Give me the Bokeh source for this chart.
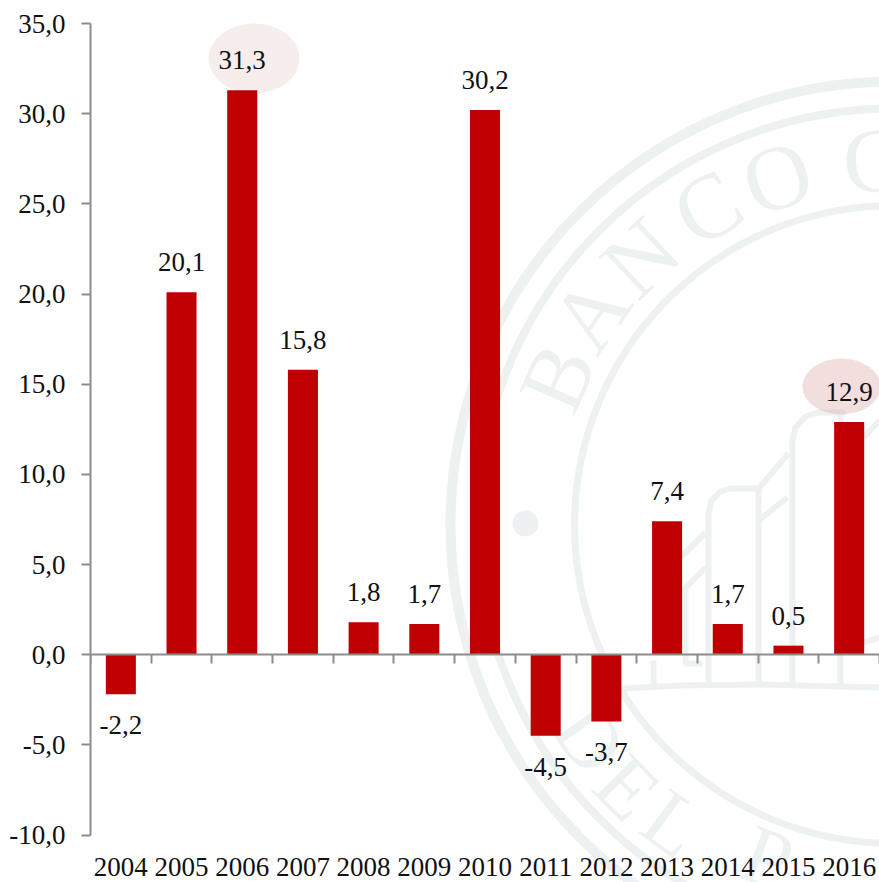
import math
from bokeh.embed import file_html
from bokeh.resources import INLINE
from bokeh.plotting import figure
from bokeh.core.properties import value
from bokeh.models import ColumnDataSource, Range1d, FixedTicker, LinearAxis

years = ["2004", "2005", "2006", "2007", "2008", "2009", "2010", "2011", "2012", "2013", "2014", "2015", "2016"]
values = [-2.2, 20.1, 31.3, 15.8, 1.8, 1.7, 30.2, -4.5, -3.7, 7.4, 1.7, 0.5, 12.9]
y_ticks = [-10, -5, 0, 5, 10, 15, 20, 25, 30, 35]
y_tick_labels = ["-10,0", "-5,0", "0,0", "5,0", "10,0", "15,0", "20,0", "25,0", "30,0", "35,0"]

FONT = "Liberation Serif"
FS = "27px"
RED = "#c00000"
AXIS = "#8c8c8c"
WM = "#edf1f1"

# layout, in window pixels: the frame fills the canvas below and to the right of the y axis
W, H = 879, 882
LEFT = 90
PX_Y35, PX_YM10 = 23, 834.5
PX_PER_UNIT = (PX_YM10 - PX_Y35) / 45
Y_TOP = 35 + PX_Y35 / PX_PER_UNIT
Y_BOTTOM = 35 - (H - PX_Y35) / PX_PER_UNIT

centers = [i + 0.5 for i in range(len(years))]

p = figure(width=W, height=H, output_backend="svg", toolbar_location=None,
           x_range=Range1d(LEFT, W),
           y_range=Range1d(Y_BOTTOM, Y_TOP),
           x_axis_location=None,
           min_border_left=LEFT, min_border_right=0, min_border_top=0, min_border_bottom=0,
           outline_line_color=None, background_fill_color="white", border_fill_color="white")
p.xgrid.visible = False
p.ygrid.visible = False

p.extra_x_ranges = {"idx": Range1d(0, len(years))}
p.extra_y_ranges = {"px": Range1d(H, 0)}

# --- watermark seal, drawn in window pixel coordinates
CX, CY = 893, 524
wm = dict(y_range_name="px")
for r, lw in [(443, 10), (416, 8), (319, 7)]:
    p.circle([CX], [CY], radius=r, fill_color=None, line_color=WM, line_width=lw, **wm)
p.circle([525], [523], radius=13, fill_color=WM, line_color=None, **wm)

top_letters = ["B", "A", "N", "C", "O", "C"]
top_x = [557, 590, 640, 707, 777, 873]
top_y = [377, 313, 257, 207, 177, 160]
top_angle = [math.atan2(CY - y, x - CX) - math.pi / 2 for x, y in zip(top_x, top_y)]
p.text(top_x, top_y, text=top_letters, angle=top_angle, text_font=value(FONT), text_font_size="92px",
       text_color=WM, text_align="center", text_baseline="middle", **wm)

bot_letters = ["D", "E", "L", "P"]
bot_x = [590, 627, 673, 767]
bot_y = [738, 787, 823, 857]
bot_angle = [math.atan2(CY - y, x - CX) + math.pi / 2 for x, y in zip(bot_x, bot_y)]
p.text(bot_x, bot_y, text=bot_letters, angle=bot_angle, text_font=value(FONT), text_font_size="84px",
       text_color=WM, text_align="center", text_baseline="middle", **wm)

building_x = [
    [623, 680, 760, 879],
    [708, 708, 711, 720, 730, 757],
    [758, 758],
    [758, 788],
    [792, 792, 795, 805, 817, 845],
    [840, 840],
    [758, 787],
    [680, 705],
    [705, 685, 685, 702],
    [653, 653],
    [863, 879],
    [860, 879],
]
building_y = [
    [688, 685, 684, 687],
    [685, 513, 500, 491, 488, 488],
    [488, 685],
    [488, 453],
    [685, 440, 427, 416, 412, 412],
    [412, 685],
    [520, 497],
    [557, 532],
    [567, 587, 663, 663],
    [660, 685],
    [437, 420],
    [643, 637],
]
p.multi_line(building_x, building_y, line_color=WM, line_width=6, **wm)

# --- highlight ellipses
p.ellipse([253.5], [58], width=91, height=70, fill_color="#f5eeec", line_color=None, **wm)
p.ellipse([841], [386], width=78, height=56, fill_color="#d9a09f", fill_alpha=0.35, line_color=None, **wm)

# --- bars and their labels
src = ColumnDataSource(dict(
    pos=centers, val=values, label=[f"{v:.1f}".replace(".", ",") for v in values],
    off=[-30 if v >= 0 else 31 for v in values]))
p.vbar(x="pos", top="val", bottom=0, width=0.495, source=src, fill_color=RED, line_color=None,
       x_range_name="idx")
p.text(x="pos", y="val", text="label", y_offset="off", source=src, text_font=value(FONT),
       text_font_size=FS, text_color="#111111", text_align="center", text_baseline="alphabetic",
       x_range_name="idx")

# --- axes
yax = p.yaxis[0]
yax.ticker = FixedTicker(ticks=y_ticks)
yax.major_label_overrides = dict(zip(y_ticks, y_tick_labels))
yax.bounds = (y_ticks[0], y_ticks[-1])
yax.axis_line_color = AXIS
yax.axis_line_width = 2
yax.major_tick_line_color = AXIS
yax.major_tick_line_width = 2
yax.major_tick_in = 0
yax.major_tick_out = 9
yax.minor_tick_line_color = None
yax.major_label_standoff = 16
yax.major_label_text_font = FONT
yax.major_label_text_font_size = FS
yax.major_label_text_color = "#111111"

xax = LinearAxis(x_range_name="idx", fixed_location=y_ticks[0], ticker=FixedTicker(ticks=centers))
xax.major_label_overrides = dict(zip(centers, years))
xax.axis_line_color = None
xax.major_tick_line_color = None
xax.minor_tick_line_color = None
xax.major_label_standoff = 17
xax.major_label_text_font = FONT
xax.major_label_text_font_size = FS
xax.major_label_text_color = "#111111"
p.add_layout(xax, "below")

zero = LinearAxis(x_range_name="idx", fixed_location=0,
                  ticker=FixedTicker(ticks=list(range(len(years) + 1))))
zero.axis_line_color = AXIS
zero.axis_line_width = 2
zero.major_tick_line_color = AXIS
zero.major_tick_line_width = 2
zero.major_tick_in = 0
zero.major_tick_out = 9
zero.minor_tick_line_color = None
zero.major_label_text_color = None
zero.major_label_text_font_size = "1px"
p.add_layout(zero, "below")

open("out.html", "w").write(file_html(p, INLINE))
